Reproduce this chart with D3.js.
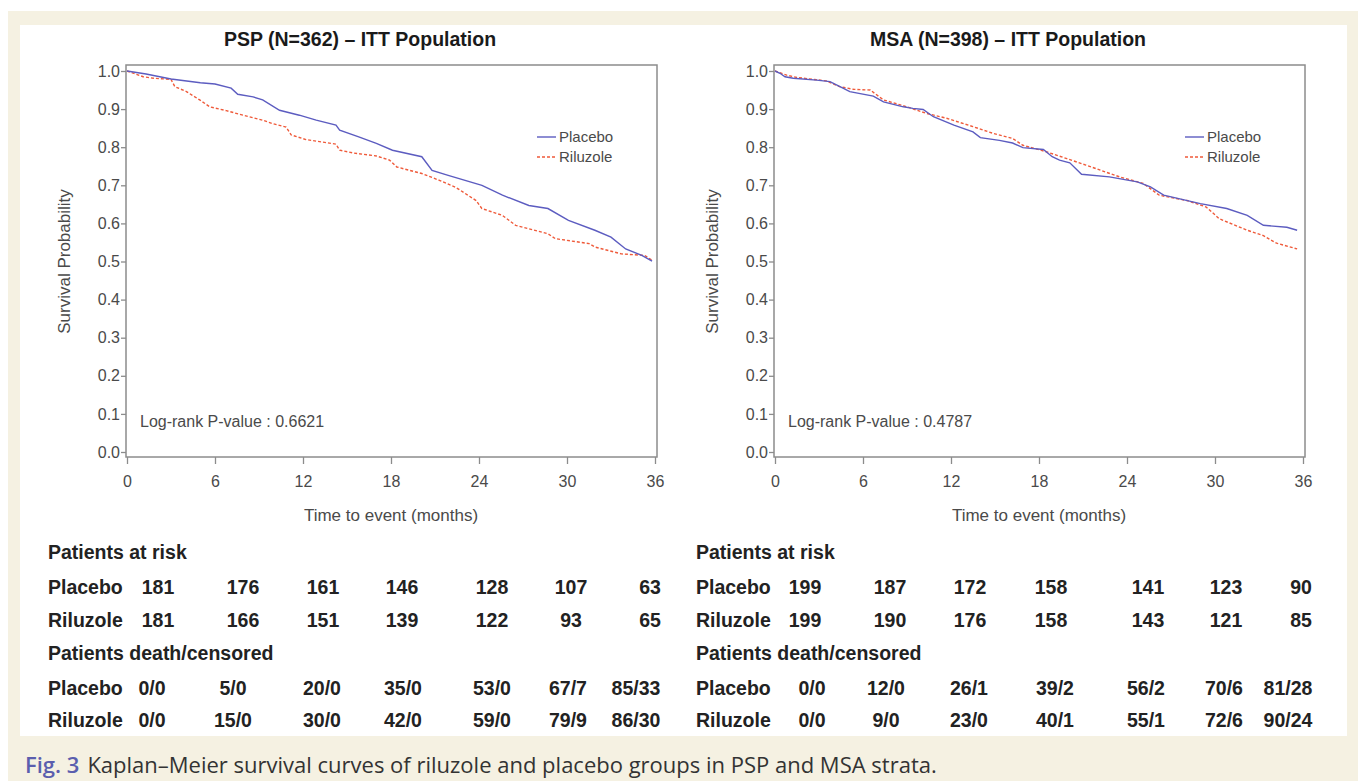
<!DOCTYPE html>
<html>
<head>
<meta charset="utf-8">
<script src="https://cdn.jsdelivr.net/npm/d3@7"></script>
<style>
body { margin: 0; background: #fff; }
svg { display: block; font-family: "Liberation Sans", Arial, sans-serif; }
</style>
</head>
<body>
<svg width="1358" height="781"></svg>
<script>
// Kaplan-Meier curves: [month, survival probability]
var pspPlacebo = [[0,1],[1.3,.992],[3,.979],[5,.969],[6,.966],[7.1,.955],[7.55,.939],[8.6,.932],[9.25,.924],
  [10.4,.897],[11.75,.884],[12.9,.871],[14.25,.858],[14.5,.845],[15.8,.827],[17,.81],[18.1,.792],[20.1,.775],
  [20.8,.739],[21.9,.726],[24.2,.70],[25.6,.674],[27.4,.647],[28.7,.639],[30.1,.608],[31.9,.582],[33,.564],
  [34,.533],[35.1,.516],[35.8,.501]];
var pspRiluzole = [[0,1],[1.1,.985],[1.8,.981],[3,.978],[3.26,.959],[4.05,.946],[4.96,.924],[5.64,.906],
  [6.77,.896],[7.9,.884],[9.25,.871],[9.9,.862],[10.85,.853],[11.2,.832],[12.2,.82],[14.25,.808],[14.5,.792],
  [15.4,.785],[17,.777],[17.9,.766],[18.4,.748],[20.1,.731],[21.3,.713],[22.4,.695],[23.8,.66],[24.2,.639],
  [25.6,.621],[26.5,.595],[28.7,.573],[29.2,.56],[31.5,.547],[31.9,.538],[33.7,.52],[35.3,.516],[35.8,.503]];
var msaPlacebo = [[0,1],[.34,.994],[.68,.985],[1.25,.981],[2.84,.976],[3.75,.972],[4.43,.959],[5.1,.946],
  [6.7,.934],[7.4,.919],[8.75,.906],[9.4,.902],[10.1,.899],[10.8,.88],[12.2,.858],[13.5,.84],[14,.825],
  [15.3,.818],[16.2,.811],[16.9,.799],[18.3,.794],[18.9,.775],[19.4,.766],[20.1,.759],[20.9,.729],[22.8,.722],
  [24.7,.709],[25.6,.696],[26.5,.674],[29,.652],[30.8,.639],[32.2,.621],[33.3,.595],[34.9,.59],[35.6,.582]];
var msaRiluzole = [[0,1],[.8,.989],[1.5,.983],[3.5,.974],[4.4,.959],[5.35,.952],[6.5,.95],[7.4,.924],[9,.906],
  [10.3,.889],[11.7,.876],[13.5,.854],[14.9,.836],[16.2,.823],[16.9,.805],[18.5,.788],[19.9,.77],[21.2,.753],
  [23.5,.722],[25.1,.705],[26.2,.674],[28.1,.66],[29.4,.643],[30.3,.612],[32.2,.582],[33.3,.568],[34.2,.548],
  [35.6,.533]];

var monthTicks = [0, 6, 12, 18, 24, 30, 36];
var probTicks = [0, .1, .2, .3, .4, .5, .6, .7, .8, .9, 1];
var seriesNames = ["Placebo", "Riluzole"];

// numbers under each chart
var pspRiskPlacebo = [181, 176, 161, 146, 128, 107, 63];
var pspRiskRiluzole = [181, 166, 151, 139, 122, 93, 65];
var pspDeathPlacebo = ["0/0", "5/0", "20/0", "35/0", "53/0", "67/7", "85/33"];
var pspDeathRiluzole = ["0/0", "15/0", "30/0", "42/0", "59/0", "79/9", "86/30"];
var msaRiskPlacebo = [199, 187, 172, 158, 141, 123, 90];
var msaRiskRiluzole = [199, 190, 176, 158, 143, 121, 85];
var msaDeathPlacebo = ["0/0", "12/0", "26/1", "39/2", "56/2", "70/6", "81/28"];
var msaDeathRiluzole = ["0/0", "9/0", "23/0", "40/1", "55/1", "72/6", "90/24"];

var blue = "#5c5cc0", red = "#ef5a3a", grey = "#8c8c8c", txt = "#4a4a4a";

var svg = d3.select("svg");

// page background
svg.append("rect").attr("x", 8).attr("y", 11).attr("width", 1350).attr("height", 770).attr("fill", "#f5f1e2");
svg.append("rect").attr("x", 20).attr("y", 25).attr("width", 1327).attr("height", 711).attr("fill", "#fff");

function drawKM(x0, title, pvalue, placebo, riluzole) {
  var x = d3.scaleLinear().domain([0, 36]).range([x0, x0 + 528]);
  var y = d3.scaleLinear().domain([0, 1]).range([452, 71]);
  var g = svg.append("g");

  g.append("text")
    .attr("x", x0 + 233).attr("y", 46)
    .attr("text-anchor", "middle")
    .attr("font-size", "19.5px").attr("font-weight", "bold").attr("fill", "#1a1a1a")
    .text(title);

  // frame
  g.append("rect")
    .attr("x", x(0) - 1).attr("y", 65)
    .attr("width", x(36) - x(0) + 3).attr("height", 392)
    .attr("fill", "none").attr("stroke", grey).attr("stroke-width", 1.5);

  var yAxis = d3.axisLeft(y).tickValues(probTicks).tickFormat(d3.format(".1f"))
    .tickSize(5).tickSizeOuter(0).tickPadding(1);
  var ya = g.append("g").attr("transform", "translate(" + (x(0) - 1) + ",0)").call(yAxis);

  var xAxis = d3.axisBottom(x).tickValues(monthTicks).tickSize(7).tickSizeOuter(0).tickPadding(12);
  var xa = g.append("g").attr("transform", "translate(0,457)").call(xAxis);

  [ya, xa].forEach(function(a) {
    a.select(".domain").remove();
    a.selectAll("line").attr("stroke", grey).attr("stroke-width", 1.3);
    a.selectAll("text").attr("font-size", "16px").attr("fill", txt)
      .attr("font-family", "Liberation Sans, Arial, sans-serif");
  });

  g.append("text")
    .attr("transform", "translate(" + (x0 - 63) + "," + y(0.5) + ")rotate(-90)")
    .attr("text-anchor", "middle").attr("dy", "0.35em")
    .attr("font-size", "17px").attr("fill", txt)
    .text("Survival Probability");

  g.append("text")
    .attr("x", x(18)).attr("y", 521)
    .attr("text-anchor", "middle")
    .attr("font-size", "17px").attr("fill", txt)
    .text("Time to event (months)");

  var line = d3.line().x(function(d) { return x(d[0]); }).y(function(d) { return y(d[1]); });

  g.append("path").datum(riluzole).attr("d", line)
    .attr("fill", "none").attr("stroke", red).attr("stroke-width", 1.4).attr("stroke-dasharray", "3,2");
  g.append("path").datum(placebo).attr("d", line)
    .attr("fill", "none").attr("stroke", blue).attr("stroke-width", 1.4);

  // legend
  var leg = g.append("g").attr("transform", "translate(" + (x0 + 410) + ",137)");
  seriesNames.forEach(function(name, i) {
    leg.append("line")
      .attr("x1", 0).attr("x2", 19).attr("y1", i * 20).attr("y2", i * 20)
      .attr("stroke", i ? red : blue).attr("stroke-width", 1.4)
      .attr("stroke-dasharray", i ? "3,2" : null);
    leg.append("text")
      .attr("x", 22).attr("y", i * 20).attr("dy", "0.35em")
      .attr("font-size", "15px").attr("fill", txt)
      .text(name);
  });

  g.append("text")
    .attr("x", x0 + 13).attr("y", 421).attr("dy", "0.35em")
    .attr("font-size", "16px").attr("fill", txt)
    .text("Log-rank P-value : " + pvalue);
}

drawKM(127, "PSP (N=362) \u2013 ITT Population", "0.6621", pspPlacebo, pspRiluzole);
drawKM(775, "MSA (N=398) \u2013 ITT Population", "0.4787", msaPlacebo, msaRiluzole);

// tables of patients at risk and deaths/censored
var rowY = [552, 587, 620, 653, 688, 720];

function drawTable(x0, riskCols, deathCols, riskP, riskR, deathP, deathR) {
  var g = svg.append("g")
    .attr("font-size", "19.5px").attr("font-weight", "bold").attr("fill", "#222");
  var headers = [[0, "Patients at risk"], [3, "Patients death/censored"]];
  headers.forEach(function(h) {
    g.append("text").attr("x", x0).attr("y", rowY[h[0]]).attr("dy", "0.35em").text(h[1]);
  });
  var rows = [[1, riskP, riskCols], [2, riskR, riskCols], [4, deathP, deathCols], [5, deathR, deathCols]];
  rows.forEach(function(r) {
    g.append("text").attr("x", x0).attr("y", rowY[r[0]]).attr("dy", "0.35em")
      .text(seriesNames[(r[0] === 1 || r[0] === 4) ? 0 : 1]);
    g.selectAll(null).data(r[1]).enter().append("text")
      .attr("x", function(d, i) { return r[2][i]; })
      .attr("y", rowY[r[0]]).attr("dy", "0.35em")
      .attr("text-anchor", "middle")
      .text(function(d) { return d; });
  });
}

drawTable(48, [158, 243, 323, 402, 492, 571, 650], [152, 233, 322, 403, 492, 568, 636],
  pspRiskPlacebo, pspRiskRiluzole, pspDeathPlacebo, pspDeathRiluzole);
drawTable(696, [805, 890, 970, 1051, 1148, 1226, 1301], [812, 886, 969, 1055, 1146, 1224, 1288],
  msaRiskPlacebo, msaRiskRiluzole, msaDeathPlacebo, msaDeathRiluzole);

// caption
var cap = svg.append("text").attr("x", 25).attr("y", 773)
  .attr("font-family", "Open Sans, sans-serif").attr("font-size", "22px").attr("fill", "#333");
cap.append("tspan").attr("fill", "#5b5eae").attr("font-weight", 600).text("Fig. 3");
cap.append("tspan").attr("dx", 8)
  .text("Kaplan\u2013Meier survival curves of riluzole and placebo groups in PSP and MSA strata.");
</script>
</body>
</html>
